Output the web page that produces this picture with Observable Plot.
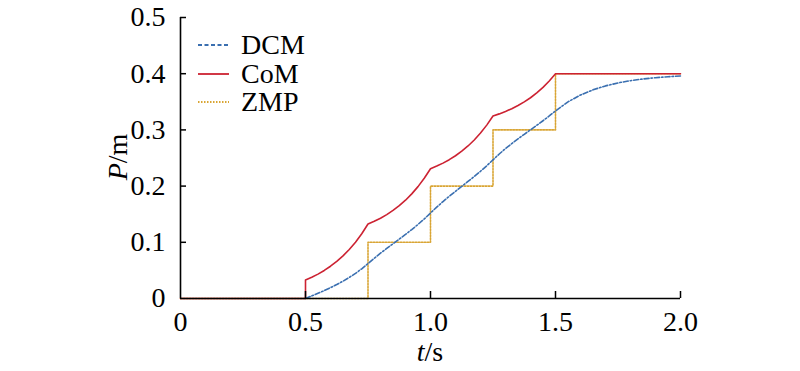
<!DOCTYPE html>
<html><head><meta charset="utf-8">
<script src="https://cdn.jsdelivr.net/npm/d3@7"></script>
<script src="https://cdn.jsdelivr.net/npm/@observablehq/plot@0.6"></script>
<style>
body{margin:0;background:#fff;}
#wrap{position:relative;width:800px;height:371px;font-family:"Liberation Serif","Times New Roman",serif;}
.lbl{position:absolute;font-size:28px;color:#000;white-space:nowrap;line-height:1;}
.leg{position:absolute;left:198px;font-size:28px;line-height:1;display:flex;align-items:center;}
.leg svg{margin-right:12px;}
</style></head><body><div id="wrap"></div>
<script>
// Series names and colours
const seriesNames = ["DCM", "CoM", "ZMP"];
const seriesColors = ["#3a6fb0", "#cc2232", "#d9a534"];

// DCM (blue, dash-dot)
const tDcm = [0.5,0.525,0.55,0.575,0.6,0.625,0.65,0.675,0.7,0.725,0.75,
  0.775,0.8,0.825,0.85,0.875,0.9,0.925,0.95,0.975,1.0,
  1.025,1.05,1.075,1.1,1.125,1.15,1.175,1.2,1.225,1.25,
  1.275,1.3,1.325,1.35,1.375,1.4,1.425,1.45,1.475,1.5,
  1.55,1.6,1.65,1.7,1.75,1.8,1.85,1.9,1.95,2.0];
const dcmP = [0,0.0046,0.0093,0.0141,0.0193,0.0248,0.0308,0.0374,0.0447,0.0529,0.0622,
  0.0716,0.0806,0.0891,0.0974,0.1057,0.1141,0.1227,0.1318,0.1415,0.1521,
  0.1626,0.1725,0.1818,0.1907,0.1995,0.2083,0.2172,0.2264,0.2362,0.2467,
  0.2571,0.2667,0.2756,0.2840,0.2922,0.3002,0.3081,0.3163,0.3248,0.3337,
  0.3499,0.3621,0.3713,0.3783,0.3836,0.3876,0.3906,0.3929,0.3946,0.3959];

// CoM (red, solid)
const tCom = [0,0.5,0.5,0.525,0.55,0.575,0.6,0.625,0.65,0.675,0.7,0.725,0.75,
  0.775,0.8,0.825,0.85,0.875,0.9,0.925,0.95,0.975,1.0,
  1.025,1.05,1.075,1.1,1.125,1.15,1.175,1.2,1.225,1.25,
  1.275,1.3,1.325,1.35,1.375,1.4,1.425,1.45,1.475,1.5,2.0];
const comP = [0,0,0.0328,0.0377,0.0434,0.0499,0.0574,0.0660,0.0758,0.0872,0.1002,0.1152,0.1325,
  0.1373,0.1429,0.1493,0.1567,0.1652,0.1749,0.1862,0.1991,0.2139,0.2309,
  0.2356,0.2409,0.2470,0.2540,0.2621,0.2714,0.2821,0.2944,0.3085,0.3248,
  0.3285,0.3328,0.3377,0.3433,0.3498,0.3572,0.3658,0.3756,0.3870,0.4,0.4];

// ZMP (yellow, dotted step)
const tZmp = [0, 0.75, 1.0, 1.25, 1.5, 2.0];
const zmpP = [0, 0.1, 0.2, 0.3, 0.4, 0.4];

// Ticks
const xTicks = [0, 0.5, 1.0, 1.5, 2.0];
const xTickLabels = ["0", "0.5", "1.0", "1.5", "2.0"];
const yTicks = [0, 0.1, 0.2, 0.3, 0.4, 0.5];
const yTickLabels = ["0", "0.1", "0.2", "0.3", "0.4", "0.5"];

const dcm = tDcm.map((t, i) => ({t, p: dcmP[i]}));
const com = tCom.map((t, i) => ({t, p: comP[i]}));
const zmp = tZmp.map((t, i) => ({t, p: zmpP[i]}));

const plot = Plot.plot({
  width: 800, height: 371,
  marginLeft: 180, marginRight: 120, marginTop: 17, marginBottom: 73,
  style: {fontFamily: '"Liberation Serif","Times New Roman",serif', fontSize: "28px", color: "#000", background: "#fff"},
  x: {domain: [0, 2], label: null},
  y: {domain: [0, 0.5], label: null},
  marks: [
    Plot.line(zmp, {x: "t", y: "p", curve: "step-after", stroke: seriesColors[2], strokeWidth: 1.6, strokeDasharray: "1.6,1.4"}),
    Plot.line(com, {x: "t", y: "p", stroke: seriesColors[1], strokeWidth: 1.6}),
    Plot.line(dcm, {x: "t", y: "p", stroke: seriesColors[0], strokeWidth: 1.6, strokeDasharray: "5,2,1.5,2"}),
    Plot.axisY({ticks: yTicks, tickFormat: (d) => yTickLabels[yTicks.indexOf(d)], tickSize: 0, tickPadding: 15}),
    Plot.axisX({ticks: xTicks, tickFormat: (d) => xTickLabels[xTicks.indexOf(d)], tickSize: 0, tickPadding: 13}),
    // inward tick marks
    Plot.ruleY(yTicks.slice(1), {y: (d) => d, x1: 0, x2: 0, insetRight: -6, stroke: "#000", strokeWidth: 1.5}),
    Plot.ruleX(xTicks.slice(1), {x: (d) => d, y1: 0, y2: 0, insetBottom: 7, stroke: "#000", strokeWidth: 1.5}),
    Plot.ruleX([0], {stroke: "#000", strokeWidth: 1.6}),
    Plot.ruleY([0], {stroke: "#000", strokeWidth: 1.6})
  ]
});
const wrap = document.getElementById("wrap");
wrap.appendChild(plot);

// axis titles
const yl = document.createElement("div");
yl.className = "lbl";
yl.innerHTML = "<i>P</i>/m";
yl.style.left = "118px"; yl.style.top = "157px";
yl.style.transform = "translate(-50%,-50%) rotate(-90deg)";
wrap.appendChild(yl);
const xl = document.createElement("div");
xl.className = "lbl";
xl.innerHTML = "<i>t</i>/s";
xl.style.left = "430px"; xl.style.top = "338px";
xl.style.transform = "translateX(-50%)";
wrap.appendChild(xl);

// legend
const dashes = ["4,2.5", null, "1.5,1.5"];
seriesNames.forEach((name, i) => {
  const d = document.createElement("div");
  d.className = "leg";
  d.style.top = (31 + i * 28.5) + "px";
  d.innerHTML = `<svg width="31" height="6"><line x1="0" y1="3" x2="31" y2="3" stroke="${seriesColors[i]}" stroke-width="1.8" ${dashes[i] ? `stroke-dasharray="${dashes[i]}"` : ""}/></svg><span>${name}</span>`;
  wrap.appendChild(d);
});
</script>
</body></html>
